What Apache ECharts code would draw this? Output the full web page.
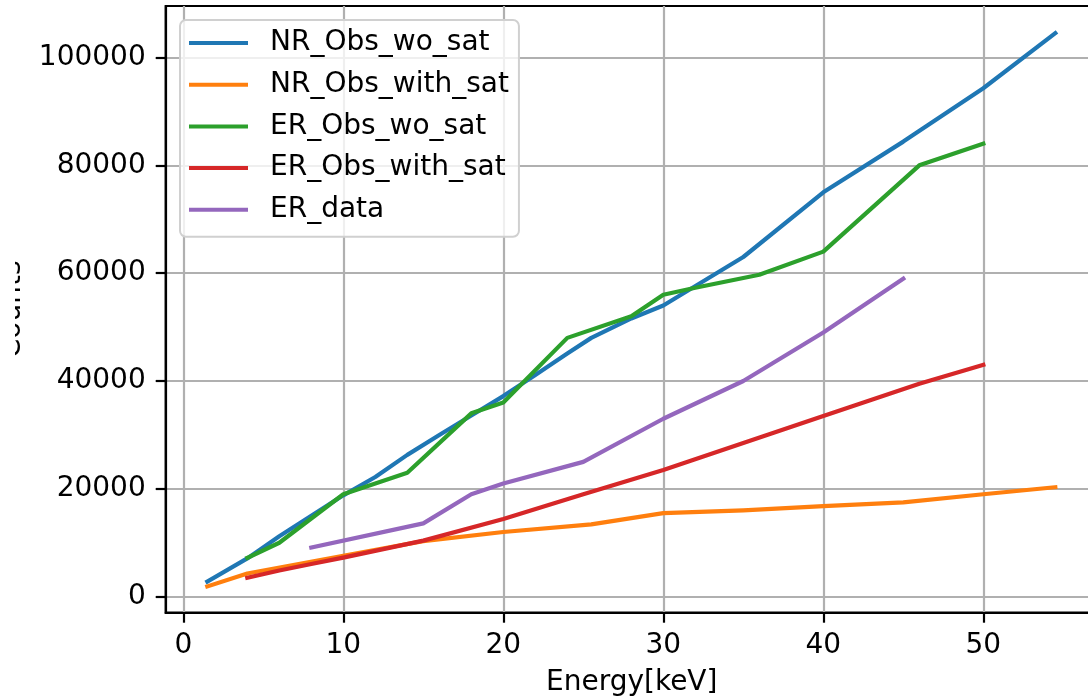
<!DOCTYPE html>
<html>
<head>
<meta charset="utf-8">
<script src="https://cdn.jsdelivr.net/npm/echarts@6/dist/echarts.min.js"></script>
<style>
html,body{margin:0;padding:0;background:#fff;}
#chart{width:1088px;height:700px;}
</style>
</head>
<body>
<div id="chart"></div>
<script>
// ---- data ----
const seriesNames = ['NR_Obs_wo_sat', 'NR_Obs_with_sat', 'ER_Obs_wo_sat', 'ER_Obs_with_sat', 'ER_data'];

const nrWoSatX = [1.5, 4, 6, 8, 10, 12, 14, 16, 18, 20, 22, 24, 25.5, 28, 30, 35, 40, 45, 50, 54.5];
const nrWoSatY = [2800, 7100, 11200, 15000, 18800, 22200, 26300, 30000, 33600, 37200, 41100, 45100, 48000, 51600, 54000, 63000, 75000, 84400, 94300, 104500];

const nrWithSatX = [1.5, 4, 10, 15, 20, 25.5, 30, 35, 40, 45, 50, 54.5];
const nrWithSatY = [1900, 4300, 7600, 10300, 12000, 13400, 15500, 16000, 16800, 17500, 19000, 20300];

const erWoSatX = [4, 6, 10, 14, 18, 20, 24, 28, 30, 32, 36, 40, 46, 50];
const erWoSatY = [7200, 10000, 19000, 23000, 34000, 36000, 48000, 52000, 56000, 57300, 59700, 64000, 80000, 84000];

const erWithSatX = [4, 6, 8, 10, 15, 20, 25, 30, 35, 40, 46, 50];
const erWithSatY = [3500, 4850, 6050, 7250, 10400, 14400, 19000, 23500, 28500, 33500, 39500, 43000];

const erDataX = [8, 15, 18, 20, 25, 30, 35, 40, 45];
const erDataY = [9100, 13600, 19000, 21000, 25000, 33000, 40000, 49000, 59000];

const xTicks = [0, 10, 20, 30, 40, 50];
const yTicks = [0, 20000, 40000, 60000, 80000, 100000];

const colors = ['#1f77b4', '#ff7f0e', '#2ca02c', '#d62728', '#9467bd'];

function pairs(xs, ys) { return xs.map((x, i) => [x, ys[i]]); }
const allData = [
  pairs(nrWoSatX, nrWoSatY),
  pairs(nrWithSatX, nrWithSatY),
  pairs(erWoSatX, erWoSatY),
  pairs(erWithSatX, erWithSatY),
  pairs(erDataX, erDataY)
];

const FONT = 'DejaVu Sans';
const FS = 28;
const chart = echarts.init(document.getElementById('chart'), null, {renderer: 'canvas'});

const option = {
  animation: false,
  backgroundColor: '#ffffff',
  color: colors,
  grid: {
    left: 165.7, top: 6, width: 932, height: 606.7,
    containLabel: false,
    outerBoundsMode: 'none',
    show: true, borderColor: '#000', borderWidth: 2.2, backgroundColor: 'transparent'
  },
  legend: {
    orient: 'vertical',
    left: 180, top: 20,
    data: seriesNames,
    icon: 'rect',
    itemWidth: 59, itemHeight: 4,
    itemGap: 11.7,
    padding: [8, 10, 12, 9],
    backgroundColor: 'rgba(255,255,255,0.8)',
    borderColor: '#d0d0d0', borderWidth: 2, borderRadius: 6,
    textStyle: {fontFamily: FONT, fontSize: FS, color: '#000', lineHeight: 30, padding: [0, 0, 0, 17]}
  },
  xAxis: {
    type: 'value', min: -1.1, max: 57.15,
    name: 'Energy[keV]', nameLocation: 'middle', nameGap: 56,
    nameTextStyle: {fontFamily: FONT, fontSize: FS, color: '#000'},
    axisLine: {show: true, onZero: false, lineStyle: {color: '#000', width: 2.2}},
    axisTick: {show: true, customValues: xTicks, length: 10, lineStyle: {color: '#000', width: 2.2}},
    axisLabel: {customValues: xTicks, margin: 19, fontFamily: FONT, fontSize: FS, color: '#000', formatter: v => String(v)},
    splitLine: {show: true, lineStyle: {color: '#b0b0b0', width: 2.2}}
  },
  yAxis: {
    type: 'value', min: -2970, max: 109550,
    name: 'Counts', nameLocation: 'middle', nameGap: 138.5,
    nameTextStyle: {fontFamily: FONT, fontSize: FS, color: '#000'},
    axisLine: {show: true, onZero: false, lineStyle: {color: '#000', width: 2.2}},
    axisTick: {show: true, customValues: yTicks, length: 10, lineStyle: {color: '#000', width: 2.2}},
    axisLabel: {customValues: yTicks, margin: 20, fontFamily: FONT, fontSize: FS, color: '#000', formatter: v => String(v)},
    splitLine: {show: true, lineStyle: {color: '#b0b0b0', width: 2.2}}
  },
  graphic: [{
    type: 'rect', left: 0, top: 240, z: 100,
    shape: {width: 15, height: 140},
    style: {fill: '#ffffff'}
  }],
  series: seriesNames.map((name, i) => ({
    name: name,
    type: 'line',
    data: allData[i],
    showSymbol: false,
    symbol: 'none',
    smooth: false,
    lineStyle: {color: colors[i], width: 4.2, cap: 'square', join: 'round'},
    itemStyle: {color: colors[i]},
    z: 2 + i
  }))
};
chart.setOption(option);
</script>
</body>
</html>
